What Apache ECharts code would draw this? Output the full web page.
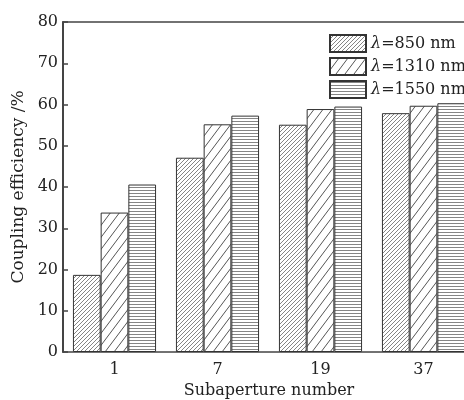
<!DOCTYPE html>
<html><head><meta charset="utf-8">
<script src="https://cdn.jsdelivr.net/npm/echarts@6/dist/echarts.min.js"></script>
<style>html,body{margin:0;padding:0;background:#fff}#c{width:464px;height:400px}</style>
</head><body><div id="c"></div>
<script>
const categories = ['1', '7', '19', '37'];
const seriesNames = ['850', '1310', '1550'];
const eff850 = [18.7, 47.1, 55.1, 57.9];
const eff1310 = [33.8, 55.2, 58.9, 59.7];
const eff1550 = [40.6, 57.3, 59.5, 60.3];
const yTicks = [0, 10, 20, 30, 40, 50, 60, 70, 80];

function makePattern(kind) {
  const c = document.createElement('canvas');
  let w, h;
  if (kind === 'dense') { w = 4; h = 4; }
  else if (kind === 'sparse') { w = 9; h = 12; }
  else { w = 4; h = 3; }
  c.width = w; c.height = h;
  const g = c.getContext('2d');
  g.fillStyle = '#fff'; g.fillRect(0, 0, w, h);
  g.strokeStyle = kind === 'sparse' ? '#555' : '#777';
  g.lineWidth = kind === 'sparse' ? 1 : 0.9;
  if (kind === 'horiz') {
    g.beginPath(); g.moveTo(0, 1.5); g.lineTo(w, 1.5); g.stroke();
  } else {
    g.beginPath();
    for (let k = -1; k <= 1; k++) {
      g.moveTo(k * w, h); g.lineTo(k * w + w, 0);
    }
    g.stroke();
  }
  return { image: c, repeat: 'repeat' };
}
const patterns = [makePattern('dense'), makePattern('sparse'), makePattern('horiz')];
const values = [eff850, eff1310, eff1550];
const serif = 'DejaVu Serif, Liberation Serif, serif';

const chart = echarts.init(document.getElementById('c'), null, { renderer: 'canvas' });
chart.setOption({
  animation: false,
  backgroundColor: '#fff',
  grid: { left: 63, top: 22, bottom: 48, width: 412, outerBoundsMode: 'none', containLabel: false },
  legend: {
    left: 329, top: 34, orient: 'vertical', padding: 0,
    icon: 'rect',
    itemWidth: 36, itemHeight: 17, itemGap: 4,
    data: seriesNames,
    formatter: n => '{l|λ}{t|=' + n + ' nm}',
    textStyle: {
      lineHeight: 17,
      rich: {
        l: { fontFamily: serif, fontStyle: 'italic', fontSize: 16, color: '#222', lineHeight: 17 },
        t: { fontFamily: serif, fontSize: 16, color: '#222', lineHeight: 17 }
      }
    }
  },
  xAxis: [{
    type: 'category', data: categories,
    name: 'Subaperture number', nameLocation: 'middle', nameGap: 29,
    nameTextStyle: { fontFamily: serif, fontSize: 16, color: '#222' },
    axisLine: { lineStyle: { color: '#444', width: 1.5 } },
    axisTick: { show: false },
    axisLabel: { fontFamily: serif, fontSize: 16, color: '#222', margin: 10 }
  }, {
    type: 'category', data: categories, position: 'top',
    axisLine: { show: true, lineStyle: { color: '#444', width: 1.5 } },
    axisTick: { show: false }, axisLabel: { show: false }
  }],
  yAxis: {
    type: 'value', min: yTicks[0], max: yTicks[yTicks.length - 1], interval: 10,
    name: 'Coupling efficiency /%', nameLocation: 'middle', nameGap: 31,
    nameTextStyle: { fontFamily: serif, fontSize: 17, color: '#222' },
    axisLine: { show: true, lineStyle: { color: '#444', width: 2 } },
    axisTick: { show: true, inside: true, length: 5, lineStyle: { color: '#444', width: 1.5 } },
    axisLabel: { fontFamily: serif, fontSize: 16, color: '#222', margin: 5 },
    splitLine: { show: false }
  },
  series: seriesNames.map((n, i) => ({
    name: n, type: 'bar', data: values[i],
    barWidth: 27.7, barGap: '0%',
    itemStyle: { color: patterns[i], borderColor: '#333', borderWidth: 1 }
  }))
});
</script></body></html>
